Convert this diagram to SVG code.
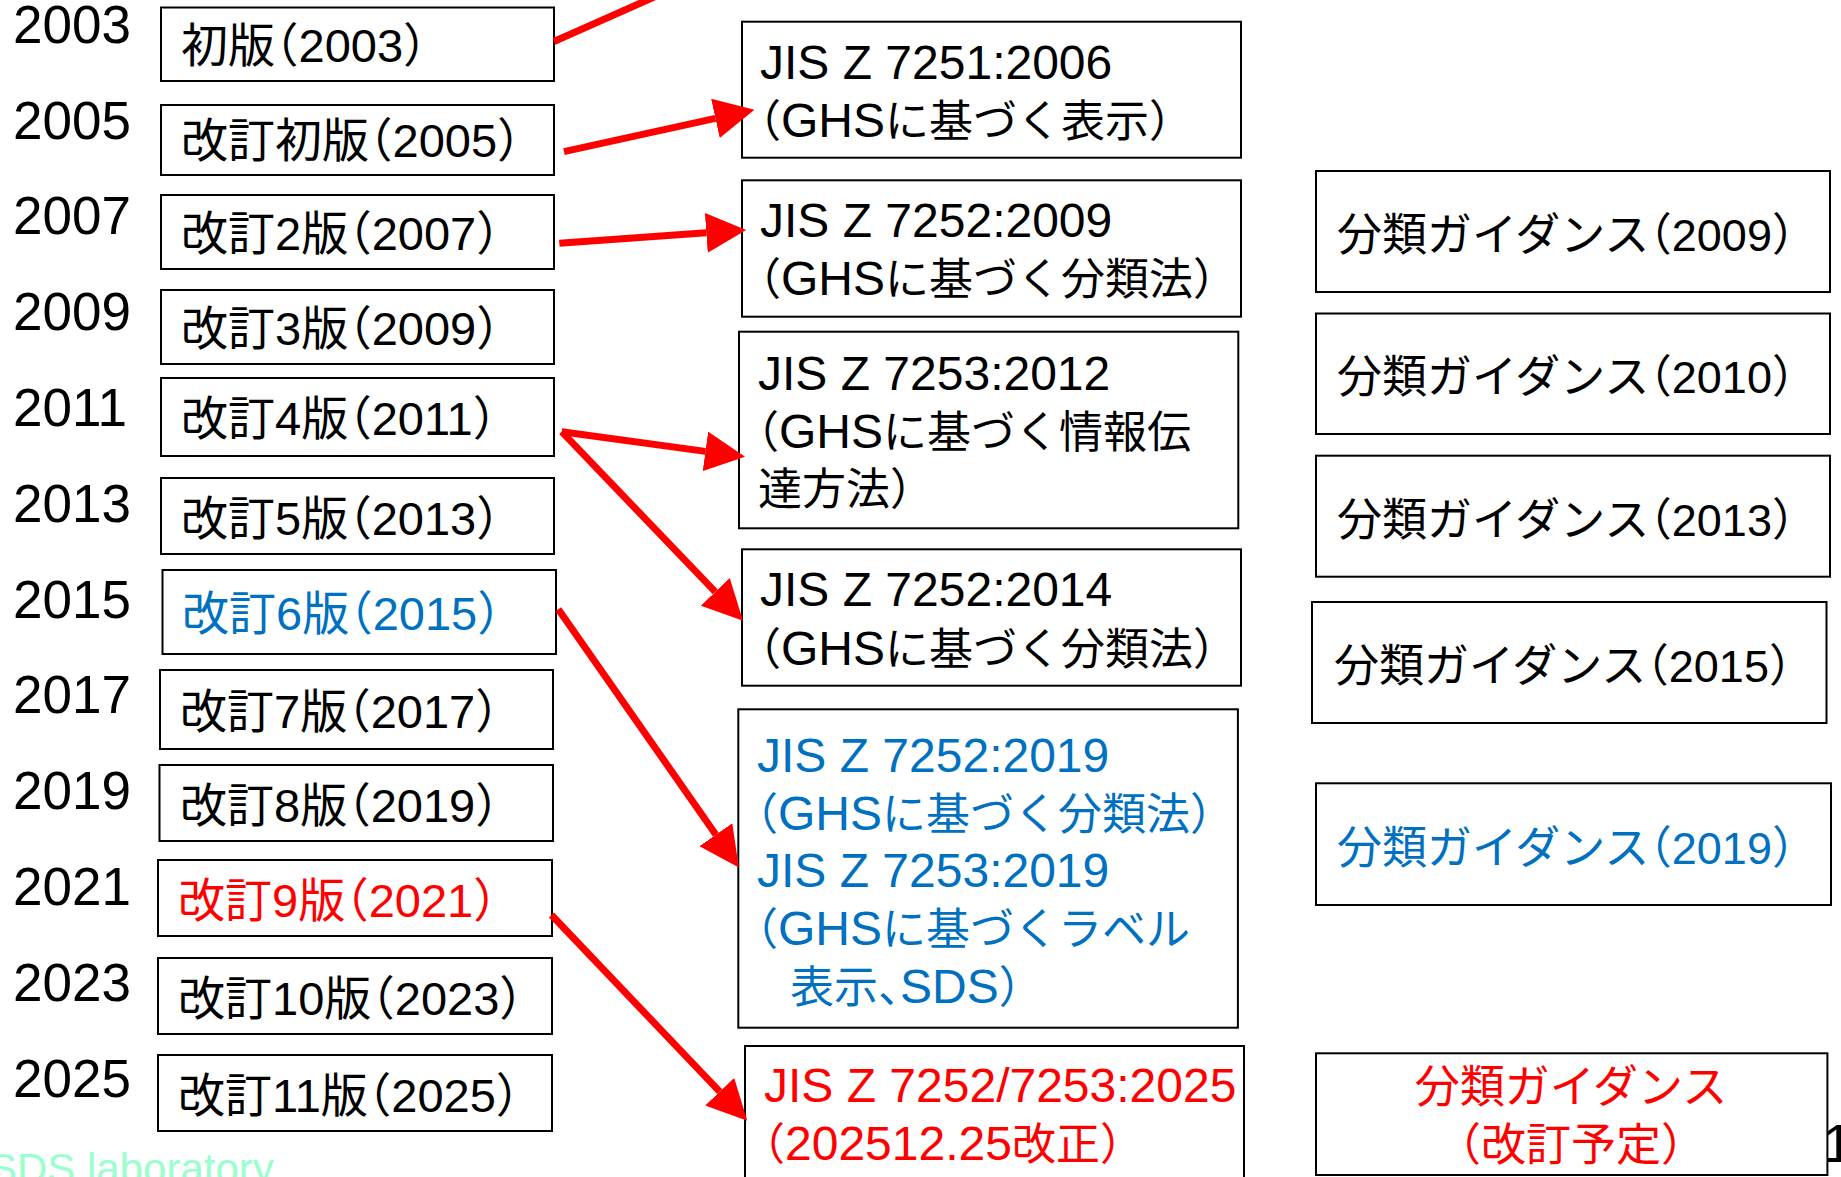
<svg xmlns="http://www.w3.org/2000/svg" width="1841" height="1177" viewBox="0 0 1841 1177">
<style>
.box{fill:#fff;stroke:#000;stroke-width:2}
text{font-family:"Liberation Sans","Noto Sans CJK JP",sans-serif;font-feature-settings:"halt";fill:#000}
.yr{font-size:53px}
.lb{font-size:47px}
.md{font-size:44px}
.la{font-size:48px}
.rt{font-size:45px}
.blue{fill:#0070C0}
.red{fill:#FF0000}
.wm{font-size:42px;fill:#99FFCC}
.arr{stroke:#FF0000;stroke-width:7;fill:none;marker-end:url(#ah)}
.line{stroke:#FF0000;stroke-width:7;fill:none}
</style>
<defs>
<marker id="ah" markerUnits="userSpaceOnUse" markerWidth="40" markerHeight="40" viewBox="0 0 39 39" refX="0" refY="19.5" orient="auto">
<path d="M0,0 L39,19.5 L0,39 Z" fill="#FF0000"/>
</marker>
</defs>
<rect width="1841" height="1177" fill="#fff"/>

<g id="years">
<text class="yr" x="13" y="42.7">2003</text>
<text class="yr" x="13" y="138.5">2005</text>
<text class="yr" x="13" y="234.3">2007</text>
<text class="yr" x="13" y="330.2">2009</text>
<text class="yr" x="13" y="426">2011</text>
<text class="yr" x="13" y="521.8">2013</text>
<text class="yr" x="13" y="617.6">2015</text>
<text class="yr" x="13" y="713.4">2017</text>
<text class="yr" x="13" y="809.3">2019</text>
<text class="yr" x="13" y="905.1">2021</text>
<text class="yr" x="13" y="1000.9">2023</text>
<text class="yr" x="13" y="1096.7">2025</text>
</g>

<g id="ed2003"><rect class="box" x="161" y="7.5" width="393" height="73.5"/><text class="lb" x="181" y="61.7">初版（2003）</text></g>
<g id="ed2005"><rect class="box" x="161" y="105" width="393" height="70"/><text class="lb" x="181" y="157.3">改訂初版（2005）</text></g>
<g id="ed2007"><rect class="box" x="161" y="195" width="393" height="74"/><text class="lb" x="181" y="250">改訂2版（2007）</text></g>
<g id="ed2009"><rect class="box" x="161" y="290" width="393" height="74"/><text class="lb" x="181" y="345">改訂3版（2009）</text></g>
<g id="ed2011"><rect class="box" x="161" y="378" width="393" height="78"/><text class="lb" x="181" y="435">改訂4版（2011）</text></g>
<g id="ed2013"><rect class="box" x="161" y="478" width="393" height="76"/><text class="lb" x="181" y="535">改訂5版（2013）</text></g>
<g id="ed2015"><rect class="box" x="162.5" y="570" width="393.5" height="84"/><text class="lb blue" x="182" y="630">改訂6版（2015）</text></g>
<g id="ed2017"><rect class="box" x="160" y="670" width="393" height="79"/><text class="lb" x="180" y="728.3">改訂7版（2017）</text></g>
<g id="ed2019"><rect class="box" x="159.5" y="765" width="393.5" height="76"/><text class="lb" x="180" y="821.7">改訂8版（2019）</text></g>
<g id="ed2021"><rect class="box" x="158" y="860" width="394" height="76"/><text class="lb red" x="178" y="916.7">改訂9版（2021）</text></g>
<g id="ed2023"><rect class="box" x="158" y="958" width="394" height="76"/><text class="lb" x="178" y="1015">改訂10版（2023）</text></g>
<g id="ed2025"><rect class="box" x="158" y="1055" width="394" height="76"/><text class="lb" x="178" y="1111.7">改訂11版（2025）</text></g>

<g id="jis7251_2006"><rect class="box" x="742" y="21.7" width="499" height="136"/>
<text class="la" x="760" y="79">JIS Z 7251:2006</text>
<text class="md" x="759" y="136.5">（<tspan class="la">GHS</tspan>に基づく表示）</text></g>

<g id="jis7252_2009"><rect class="box" x="742" y="180.3" width="499" height="136.4"/>
<text class="la" x="760" y="237.3">JIS Z 7252:2009</text>
<text class="md" x="759" y="295">（<tspan class="la">GHS</tspan>に基づく分類法）</text></g>

<g id="jis7253_2012"><rect class="box" x="739" y="331.7" width="499.3" height="196.6"/>
<text class="la" x="758" y="390">JIS Z 7253:2012</text>
<text class="md" x="757" y="448.3">（<tspan class="la">GHS</tspan>に基づく情報伝</text>
<text class="md" x="758" y="505">達方法）</text></g>

<g id="jis7252_2014"><rect class="box" x="742" y="549.3" width="499" height="136.4"/>
<text class="la" x="760" y="606">JIS Z 7252:2014</text>
<text class="md" x="759" y="665">（<tspan class="la">GHS</tspan>に基づく分類法）</text></g>

<g id="jis2019"><rect class="box" x="738.3" y="709.3" width="499.6" height="318.4"/>
<text class="la blue" x="757" y="771.7">JIS Z 7252:2019</text>
<text class="md blue" x="756" y="830">（<tspan class="la">GHS</tspan>に基づく分類法）</text>
<text class="la blue" x="757" y="886.7">JIS Z 7253:2019</text>
<text class="md blue" x="756" y="945">（<tspan class="la">GHS</tspan>に基づくラベル</text>
<text class="md blue" x="790" y="1003.3">表示、<tspan class="la">SDS</tspan>）</text></g>

<g id="jis2025"><rect class="box" x="745" y="1046" width="499" height="160"/>
<text class="la red" x="764" y="1102.3">JIS Z 7252/7253:2025</text>
<text class="md red" x="763" y="1160">（<tspan class="la">202512.25</tspan>改正）</text></g>

<g id="guide2009"><rect class="box" x="1316" y="171" width="514" height="121"/><text class="rt" x="1337" y="250.5">分類ガイダンス（2009）</text></g>
<g id="guide2010"><rect class="box" x="1316" y="313.5" width="514" height="120.5"/><text class="rt" x="1337" y="393">分類ガイダンス（2010）</text></g>
<g id="guide2013"><rect class="box" x="1316" y="455.7" width="514" height="121"/><text class="rt" x="1337" y="535.5">分類ガイダンス（2013）</text></g>
<g id="guide2015"><rect class="box" x="1312" y="602" width="514.5" height="121"/><text class="rt" x="1334" y="681.5">分類ガイダンス（2015）</text></g>
<g id="guide2019"><rect class="box" x="1316" y="783.3" width="515" height="121.7"/><text class="rt blue" x="1337" y="863.5">分類ガイダンス（2019）</text></g>
<g id="guide_next"><rect class="box" x="1316" y="1053.3" width="511.4" height="121.7"/>
<text class="rt red" x="1571" y="1103" text-anchor="middle">分類ガイダンス</text>
<text class="rt red" x="1571" y="1161" text-anchor="middle">（改訂予定）</text></g>

<text class="yr" x="1823" y="1161.7">1</text>
<text class="wm" x="-11" y="1183">SDS laboratory</text>

<g id="connectors">
<line class="line" x1="554" y1="41.5" x2="760" y2="-50"/>
<line class="arr" x1="564" y1="151.7" x2="715.4" y2="118.4"/>
<line class="arr" x1="559.3" y1="243.3" x2="706.3" y2="232.8"/>
<line class="arr" x1="561.7" y1="431.7" x2="705.4" y2="451.4"/>
<line class="arr" x1="561.7" y1="431.7" x2="715.3" y2="591.9"/>
<line class="arr" x1="558.3" y1="609.3" x2="715.9" y2="834.7"/>
<line class="arr" x1="551.5" y1="915" x2="719.7" y2="1091.7"/>
</g>
</svg>
